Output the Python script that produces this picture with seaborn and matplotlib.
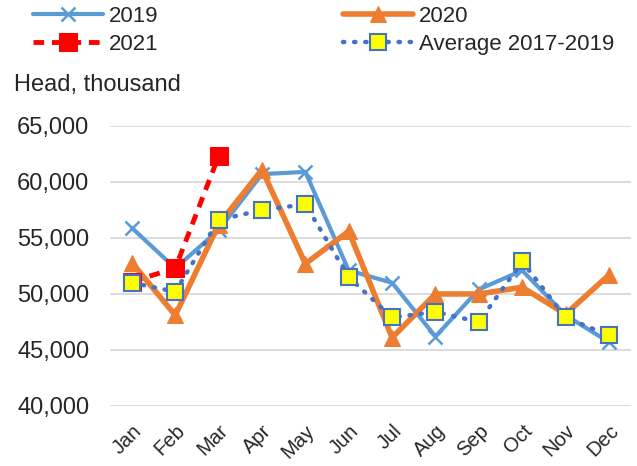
import matplotlib
matplotlib.use("Agg")
import matplotlib.pyplot as plt
import seaborn as sns
import pandas as pd

months = ["Jan", "Feb", "Mar", "Apr", "May", "Jun", "Jul", "Aug", "Sep", "Oct", "Nov", "Dec"]
y2019 = [55900, 52300, 55700, 60700, 60900, 52100, 51000, 46200, 50400, 52100, 48100, 45700]
y2020 = [52800, 48100, 56200, 61100, 52700, 55600, 46100, 50000, 50000, 50600, 48200, 51700]
y2021 = [51100, 52300, 62300]
avg = [51000, 50200, 56600, 57500, 58000, 51500, 47900, 48400, 47500, 52900, 47900, 46300]
yticks = [40000, 45000, 50000, 55000, 60000, 65000]

sns.set_theme(style="white")
plt.rcParams["font.family"] = ["Liberation Sans", "DejaVu Sans"]

fig = plt.figure(figsize=(6.37, 4.66), dpi=100)
ax = fig.add_axes([0.173, 0.1288, 0.817, 0.6009])

df19 = pd.DataFrame({"m": months, "v": y2019})
df20 = pd.DataFrame({"m": months, "v": y2020})
df21 = pd.DataFrame({"m": months[:len(y2021)], "v": y2021})
dfa = pd.DataFrame({"m": months, "v": avg})

sns.lineplot(data=df19, x="m", y="v", ax=ax, sort=False, color="#5B9BD5", lw=3,
             marker="x", markersize=10, markeredgewidth=1.8, markeredgecolor="#5B9BD5",
             label="2019", zorder=3)
sns.lineplot(data=df20, x="m", y="v", ax=ax, sort=False, color="#ED7D31", lw=4,
             marker="^", markersize=12, markeredgecolor="#ED7D31",
             label="2020", zorder=4)
sns.lineplot(data=df21, x="m", y="v", ax=ax, sort=False, color="#FF0000", lw=3.5,
             linestyle=(0, (2.2, 1.6)), marker="s", markersize=13.5, markeredgecolor="#FF0000",
             label="2021", zorder=5)
sns.lineplot(data=dfa, x="m", y="v", ax=ax, sort=False, color="#4472C4", lw=3.2,
             linestyle=(0, (0.3, 2.2)), dash_capstyle="round", marker="s", markersize=12,
             markerfacecolor="#FFFF00", markeredgecolor="#4472C4", markeredgewidth=1.5,
             label="Average 2017-2019", zorder=6)

ax.set_xlim(-0.5, 11.5)
ax.set_ylim(40000, 65000)
ax.set_yticks(yticks)
ax.set_yticklabels([f"{t:,}" for t in yticks], fontsize=17)
ax.set_xticks(range(len(months)))
ax.set_xticklabels(months, rotation=45, ha="right", rotation_mode="anchor", fontsize=14.5)
ax.tick_params(axis="y", length=0, pad=15)
ax.tick_params(axis="x", length=0, pad=11)
ax.set_xlabel("")
ax.set_ylabel("")
ax.grid(axis="y", color="#D9D9D9", lw=1.3)
ax.set_axisbelow(True)
for s in ax.spines.values():
    s.set_visible(False)

handles, labels = ax.get_legend_handles_labels()
ax.get_legend().remove()
order = [0, 2, 1, 3]
fig.legend([handles[i] for i in order], [labels[i] for i in order], ncol=2,
           loc="upper left", bbox_to_anchor=(0.02, 1.03), frameon=False, fontsize=16,
           handlelength=3.15, handletextpad=0.27, columnspacing=8.3, labelspacing=0.32)

fig.text(0.022, 0.818, "Head, thousand", fontsize=17, ha="left", va="center")

fig.savefig("out.png", dpi=100)
